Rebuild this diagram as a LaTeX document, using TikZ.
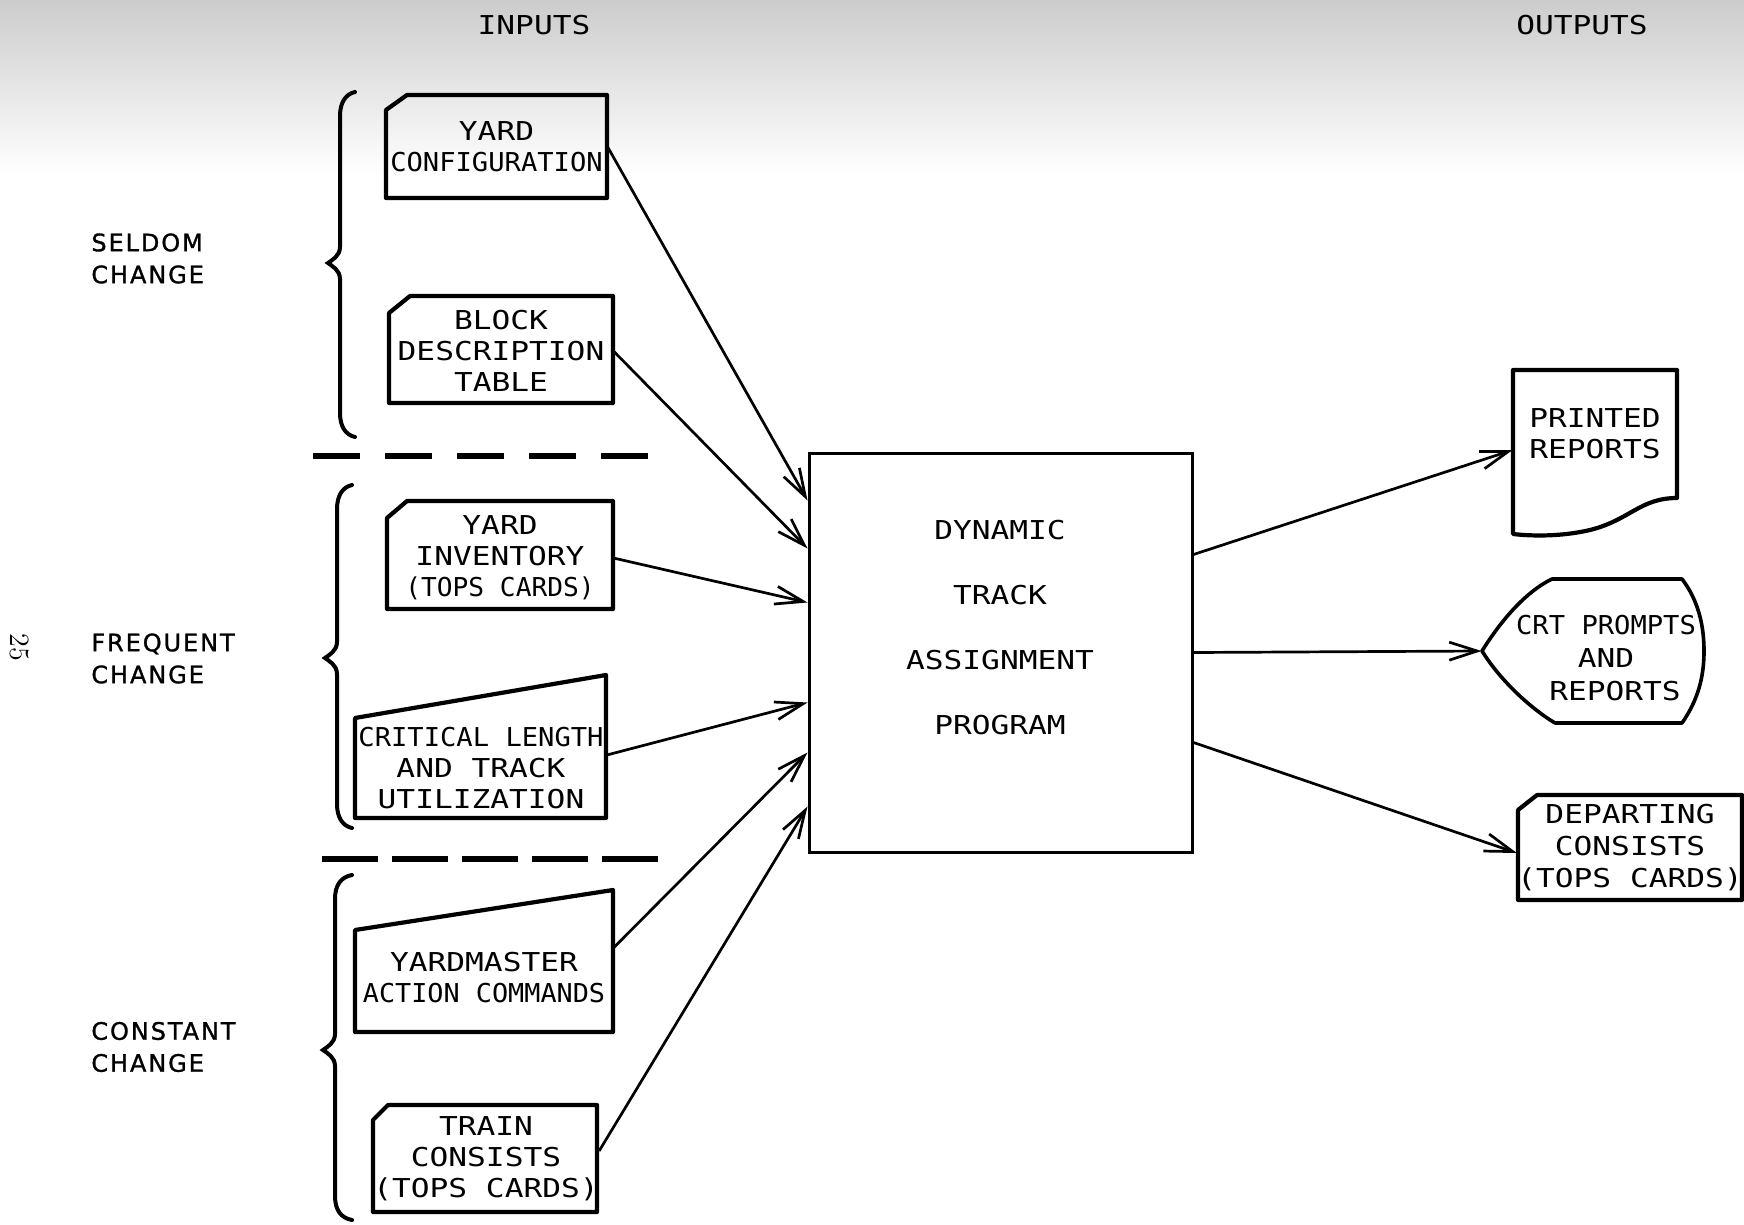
\documentclass[tikz,border=0pt]{standalone}
\usepackage{fontspec}
\usepackage{graphicx}
\usetikzlibrary{arrows.meta}
\newfontfamily\tw[FakeStretch=1.2]{DejaVu Sans Mono}
\newfontfamily\lbl[LetterSpace=8,FakeBold=1.2]{DejaVu Sans}
\newcommand\sqz[2]{\scalebox{#1}[1]{#2}}
% curly brace: end x, top y, spine x, tip x, tip y, bottom y
\newcommand\curlyb[6]{%
  \draw[bracestyle] (#1,#2) .. controls (#3+6,#2+2) and (#3,#2+10) .. (#3,#2+24)
    -- (#3,#5-16) .. controls (#3,#5-7) and (#4+4,#5-3) .. (#4,#5)
    .. controls (#4+4,#5+3) and (#3,#5+7) .. (#3,#5+16)
    -- (#3,#6-24) .. controls (#3,#6-10) and (#3+6,#6-2) .. (#1,#6);}
\begin{document}
\begin{tikzpicture}[x=0.5pt,y=-0.5pt,
  box/.style={rectangle, inner sep=0pt, align=center,
    font=\tw\fontsize{13pt}{15.5pt}\selectfont},
  outl/.style={line width=2.1pt, line join=round},
  bracestyle/.style={line width=2pt, line cap=round},
  sep/.style={line width=3pt},
  arr/.style={line width=1.35pt, -{Straight Barb[length=14pt,width=9pt,line width=1.35pt]}},
  side/.style={anchor=west, inner sep=0pt, align=left,
    font=\lbl\fontsize{12pt}{16pt}\selectfont},
  head/.style={inner sep=0pt, font=\tw\fontsize{13pt}{15.5pt}\selectfont}]
\useasboundingbox (0,0) rectangle (1744,1225);
\shade[top color=black!20, bottom color=white] (0,0) rectangle (1744,175);

% headings
\node[head] (hin) at (534,25) {INPUTS};
\node[head] (hout) at (1582,25) {OUTPUTS};

% side labels
\node[side] (lseldom) at (91,258.5) {SELDOM\\CHANGE};
\node[side] (lfreq) at (91,658.5) {FREQUENT\\CHANGE};
\node[side] (lconst) at (91,1047) {CONSTANT\\CHANGE};
\node[rotate=-90, inner sep=0pt, font=\rmfamily\fontsize{14pt}{14pt}\selectfont] (pg) at (20,647) {25};

% braces
\curlyb{355}{92}{340}{328}{263}{437}
\curlyb{352}{485}{337}{325}{658}{828}
\curlyb{352}{875}{335}{323}{1050}{1220}

% dashed separators
\draw[sep, dash pattern=on 23.5pt off 12.5pt] (313,456) -- (648,456);
\draw[sep, dash pattern=on 28pt off 7pt] (322,859) -- (658,859);

% input nodes
\node[box, minimum width=110.5pt, minimum height=51.5pt] (ycfg) at (496.5,146.5)
  {YARD\\\sqz{0.87}{CONFIGURATION}};
\draw[outl] (407,95) -- (607,95) -- (607,198) -- (386,198) -- (386,110) -- cycle;

\node[box, minimum width=112pt, minimum height=53.5pt] (bdt) at (501,351)
  {BLOCK\\DESCRIPTION\\TABLE};
\draw[outl] (410,296) -- (613,296) -- (613,403) -- (389,403) -- (389,313) -- cycle;

\node[box, minimum width=113pt, minimum height=54pt] (yinv) at (500,558)
  {YARD\\INVENTORY\\\sqz{0.84}{(TOPS CARDS)}};
\draw[outl] (407,501) -- (613,501) -- (613,609) -- (387,609) -- (387,518) -- cycle;

\node[box, minimum width=125.5pt, minimum height=50pt] (crit) at (481,768)
  {\sqz{0.87}{CRITICAL LENGTH}\\AND TRACK\\UTILIZATION};
\draw[outl] (355,718) -- (606,675) -- (606,818) -- (355,818) -- cycle;

\node[box, minimum width=129pt, minimum height=51pt] (ymas) at (484,978)
  {YARDMASTER\\\sqz{0.86}{ACTION COMMANDS}};
\draw[outl] (355,930) -- (613,890) -- (613,1032) -- (355,1032) -- cycle;

\node[box, minimum width=112pt, minimum height=53.5pt] (train) at (486,1159)
  {TRAIN\\CONSISTS\\(TOPS CARDS)};
\draw[outl] (388,1105) -- (597,1105) -- (597,1212) -- (373,1212) -- (373,1120) -- cycle;

% main program box
\node[draw, line width=1.5pt, rectangle, inner sep=0pt,
  minimum width=191.5pt, minimum height=199.5pt] (dtap) at (1000.5,652.5) {};
\node[box, font=\tw\fontsize{13pt}{32.5pt}\selectfont] (dtaptxt) at (1000,627.5)
  {DYNAMIC\\TRACK\\ASSIGNMENT\hspace*{8pt}\\PROGRAM};

% output nodes
\node[box, minimum width=82pt, minimum height=64pt] (prt) at (1595,434)
  {PRINTED\\REPORTS};
\draw[outl] (1513,370) -- (1677,370) -- (1677,498)
  .. controls (1640,498) and (1630,520) .. (1590,530)
  .. controls (1560,537) and (1530,536) .. (1513,534) -- cycle;

\node[box, minimum width=96.5pt, minimum height=72pt, font=\tw\fontsize{13pt}{16.5pt}\selectfont] (crt) at (1606,658)
  {\sqz{0.87}{CRT PROMPTS}\\AND\hspace*{9pt}\\\hspace*{9pt}REPORTS};
\draw[outl, line width=1.8pt] (1552,579) -- (1682,579)
  .. controls (1698,600) and (1704,625) .. (1704,651)
  .. controls (1704,677) and (1698,700) .. (1682,723)
  -- (1555,723)
  .. controls (1530,708) and (1500,680) .. (1482,651)
  .. controls (1500,622) and (1525,592) .. (1552,579) -- cycle;

\node[box, minimum width=112pt, minimum height=52.5pt, font=\tw\fontsize{13pt}{16pt}\selectfont] (dep) at (1630,848)
  {DEPARTING\\CONSISTS\\(TOPS CARDS)};
\draw[outl] (1537,795) -- (1742,795) -- (1742,900) -- (1518,900) -- (1518,810) -- cycle;

% input connectors
\draw[arr] (ycfg.east) -- ([yshift=76pt]dtap.west);
\draw[arr] (bdt.east) -- ([yshift=52pt]dtap.west);
\draw[arr] (yinv.east) -- ([yshift=25pt]dtap.west);
\draw[arr] ([yshift=6.5pt]crit.east) -- ([yshift=-25pt]dtap.west);
\draw[arr] ([yshift=15pt]ymas.east) -- ([yshift=-50pt]dtap.west);
\draw[arr] ([yshift=4pt]train.east) -- ([yshift=-77pt]dtap.west);

% output connectors
\draw[arr] ([yshift=49pt]dtap.east) -- ([yshift=-8pt]prt.west);
\draw[arr] (dtap.east) -- ([xshift=-13.75pt,yshift=3.5pt]crt.west);
\draw[arr] ([yshift=-45pt]dtap.east) -- ([yshift=-2.5pt]dep.west);
\end{tikzpicture}
\end{document}
